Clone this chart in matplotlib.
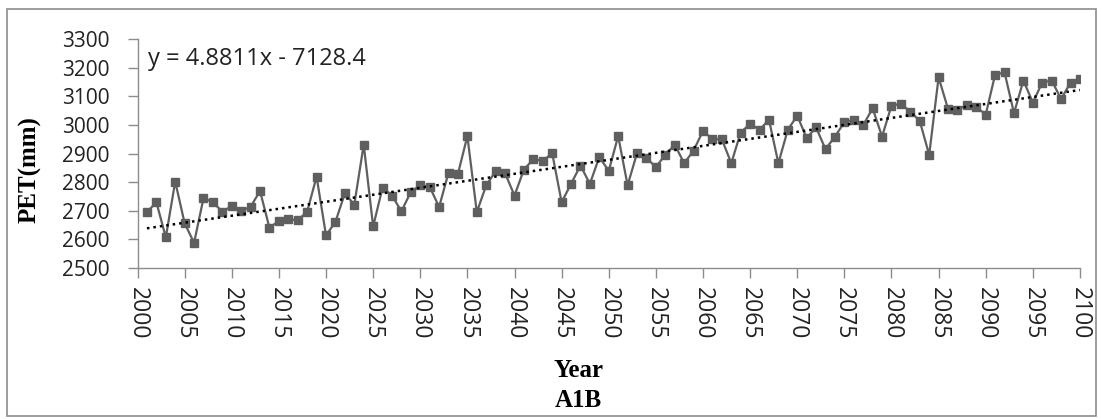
import numpy as np
import matplotlib.pyplot as plt
from matplotlib.patches import Rectangle

# datos (A1B, 2001-2100)
years = np.arange(2001, 2101)
pet = [2695, 2730, 2607, 2802, 2656, 2588, 2744, 2730, 2696, 2717,
       2699, 2714, 2769, 2640, 2665, 2670, 2667, 2697, 2819, 2614,
       2661, 2761, 2721, 2931, 2645, 2781, 2753, 2698, 2766, 2789,
       2784, 2713, 2833, 2829, 2961, 2695, 2789, 2838, 2831, 2753,
       2844, 2880, 2874, 2901, 2730, 2794, 2858, 2794, 2888, 2839,
       2961, 2789, 2901, 2884, 2853, 2895, 2931, 2866, 2910, 2979,
       2950, 2950, 2866, 2973, 3004, 2983, 3018, 2866, 2983, 3032,
       2954, 2991, 2915, 2959, 3009, 3018, 2999, 3058, 2959, 3067,
       3074, 3046, 3014, 2895, 3166, 3056, 3053, 3069, 3062, 3036,
       3176, 3183, 3041, 3155, 3078, 3148, 3155, 3090, 3148, 3162]

# linea de tendencia (ecuacion del grafico)
slope = 4.8811
intercept = -7128.4

x_ticks = np.arange(2000, 2101, 5)
y_ticks = np.arange(2500, 3301, 100)

fig = plt.figure(figsize=(11.02, 4.19), dpi=100)
ax = fig.add_axes([0.1248, 0.3604, 0.8552, 0.5465])

gris = "#5f5f5f"
ax.plot(years, pet, color=gris, lw=1.6, marker="s", ms=5.2,
        markerfacecolor=gris, markeredgecolor=gris)
trend = slope * years + intercept
ax.plot(years, trend, color="black", lw=1.8, linestyle=(0, (1, 1.6)))

ax.set_xlim(2000, 2100)
ax.set_ylim(2500, 3300)
ax.set_xticks(x_ticks)
ax.set_yticks(y_ticks)

ax.set_xticklabels([str(t) for t in x_ticks], rotation=-90,
                   fontdict={"family": "Open Sans", "size": 16.5})
ax.set_yticklabels([str(t) for t in y_ticks],
                   fontdict={"family": "Open Sans", "size": 15})
ax.tick_params(axis="both", direction="out", length=7, width=1,
               color="#8c8c8c", labelcolor="#222222")
ax.tick_params(axis="y", pad=13)
ax.tick_params(axis="x", pad=7)

for side in ["top", "right"]:
    ax.spines[side].set_visible(False)
for side in ["left", "bottom"]:
    ax.spines[side].set_color("#8c8c8c")
    ax.spines[side].set_linewidth(1)

fig.text(148 / 1102, 1 - 59 / 419, "y = 4.8811x - 7128.4",
         family="Open Sans", size=17, color="#222222", va="center")

fig.text(30 / 1102, 1 - 170 / 419, "PET(mm)", rotation=90, ha="center",
         va="center", family="Liberation Serif", weight="bold", size=18)
fig.text(578 / 1102, 1 - 370 / 419, "Year", ha="center", va="center",
         family="Liberation Serif", weight="bold", size=18)
fig.text(578 / 1102, 1 - 400 / 419, "A1B", ha="center", va="center",
         family="Liberation Serif", weight="bold", size=18)

# marco exterior
fig.patches.append(Rectangle((7 / 1102, 3 / 419), 1089 / 1102, 407 / 419,
                             transform=fig.transFigure, fill=False,
                             edgecolor="#8c8c8c", lw=1.2))

fig.savefig("out.png", dpi=100)
